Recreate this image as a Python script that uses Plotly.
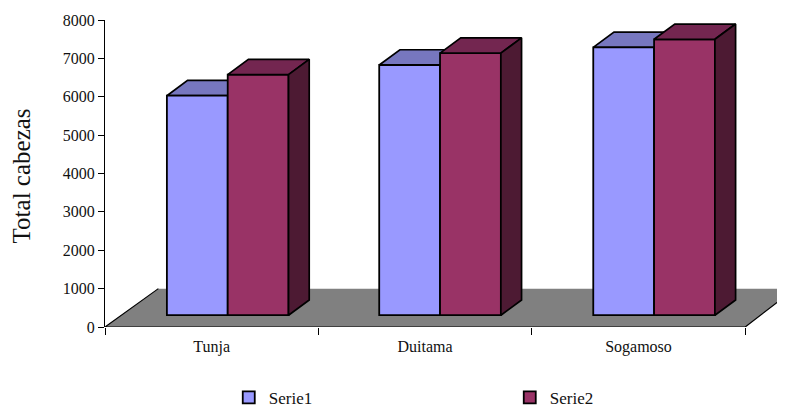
import plotly.graph_objects as go

categories = ["Tunja", "Duitama", "Sogamoso"]
serie1 = [5720, 6520, 6980]
serie2 = [6270, 6830, 7190]
y_ticks = [0, 1000, 2000, 3000, 4000, 5000, 6000, 7000, 8000]

centers = [0.5, 1.5, 2.5]
lefts1 = [0.29, 1.285, 2.288]
bar_w = 0.285
base = 307
depth_x = 0.097
depth_y = 398
FONT = "Liberation Serif"

C1, C1_TOP, C1_SIDE = "#9999FF", "#7777BF", "#4C4C80"
C2, C2_TOP, C2_SIDE = "#993366", "#732650", "#4D1A33"


def faces(left, value, top_col, side_col):
    right = left + bar_w
    top = base + value
    bx = [left, right, right + depth_x, left + depth_x, left]
    by = [top, top, top + depth_y, top + depth_y, top]
    sx = [right, right + depth_x, right + depth_x, right, right]
    sy = [top, top + depth_y, base + depth_y, base, top]
    return [(bx, by, top_col), (sx, sy, side_col)]


fig = go.Figure()

# floor
xmax = 3.1865
floor_dx = 0.25
floor_edge_y = 800
fig.add_trace(go.Scatter(x=[0, 3, xmax, xmax, floor_dx, 0], y=[0, 0, floor_edge_y, 1000, 1000, 0], mode="lines",
                         fill="toself", fillcolor="#808080", line=dict(width=0), showlegend=False, hoverinfo="skip"))
fig.add_trace(go.Scatter(x=[floor_dx, 0, 3, xmax], y=[1000, 0, 0, floor_edge_y], mode="lines",
                         line=dict(color="black", width=1.2), showlegend=False, hoverinfo="skip", cliponaxis=False))

lefts2 = [l + bar_w for l in lefts1]

# Serie1 depth faces sit under both front faces
for l, v in zip(lefts1, serie1):
    for xs, ys, col in faces(l, v, C1_TOP, C1_SIDE):
        fig.add_trace(go.Scatter(x=xs, y=ys, mode="lines", fill="toself", fillcolor=col,
                                 line=dict(color="black", width=1.7), showlegend=False, hoverinfo="skip"))

# front faces
fig.add_trace(go.Bar(x=[l + bar_w / 2 for l in lefts1], y=serie1, base=[base] * 3, width=bar_w, name="Serie1",
                     marker=dict(color=C1, line=dict(color="black", width=1.8)), xaxis="x2", yaxis="y2"))
fig.add_trace(go.Bar(x=[l + bar_w / 2 for l in lefts2], y=serie2, base=[base] * 3, width=bar_w, name="Serie2",
                     marker=dict(color=C2, line=dict(color="black", width=1.8)), xaxis="x2", yaxis="y2"))

for l, v in zip(lefts2, serie2):
    for xs, ys, col in faces(l, v, C2_TOP, C2_SIDE):
        fig.add_trace(go.Scatter(x=xs, y=ys, mode="lines", fill="toself", fillcolor=col,
                                 line=dict(color="black", width=1.7), showlegend=False, hoverinfo="skip",
                                 xaxis="x2", yaxis="y2"))

fig.update_layout(
    width=777, height=401,
    margin=dict(l=97.3, r=0, t=12, b=81.5, pad=0, autoexpand=False),
    paper_bgcolor="white", plot_bgcolor="white",
    barmode="overlay",
    font=dict(family=FONT, color="#111111", size=16),
    xaxis=dict(range=[0, xmax], showgrid=False, zeroline=False, showline=False, automargin=False,
               tickmode="array", tickvals=centers, ticktext=categories, ticks="",
               ticklabelstandoff=8, tickfont=dict(size=16),
               minor=dict(tickmode="array", tickvals=[0, 1, 2, 3], ticks="outside", ticklen=7,
                          tickcolor="black", tickwidth=1)),
    yaxis=dict(range=[0, 8000], showgrid=False, zeroline=False, showline=True, linecolor="black", linewidth=1.2,
               automargin=False,
               tickmode="array", tickvals=y_ticks, ticks="outside", ticklen=6, tickcolor="black", tickwidth=1,
               tickfont=dict(size=16)),
    xaxis2=dict(range=[0, xmax], overlaying="x", visible=False),
    yaxis2=dict(range=[0, 8000], overlaying="y", visible=False),
    legend=dict(orientation="h", x=(229 - 105.3) / 679.7, y=-71 / 307.5, xanchor="left", yanchor="middle",
                entrywidth=236, entrywidthmode="pixels", itemwidth=30, font=dict(size=17), traceorder="normal"),
    annotations=[dict(text="Total cabezas", textangle=-90, showarrow=False, font=dict(size=25),
                      xref="paper", yref="paper", x=(22 - 105.3) / 679.7, y=(327.5 - 176) / 307.5,
                      xanchor="center", yanchor="middle")],
)

fig.write_html("out.html", post_script="document.documentElement.style.overflow='hidden';")
